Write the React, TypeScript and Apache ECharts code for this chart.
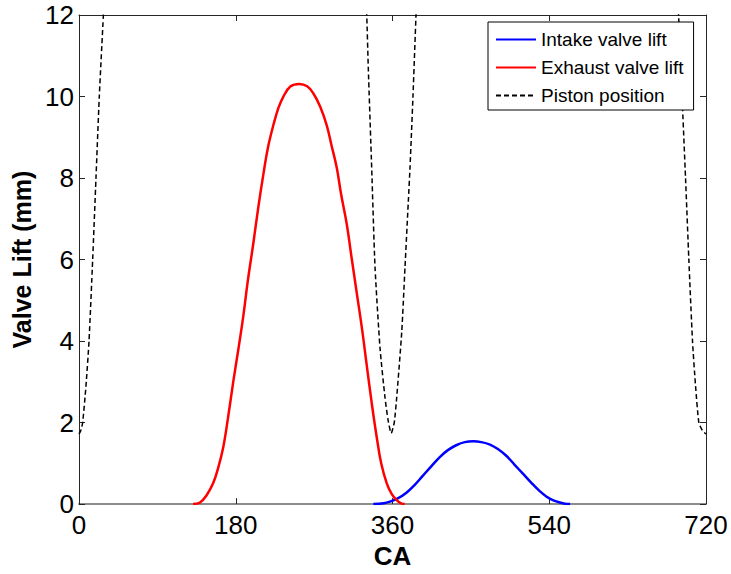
import React, { useEffect, useRef } from "react";
import * as echarts from "echarts";

// ---- data ----
const xTicks = [0, 180, 360, 540, 720];
const yTicks = [0, 2, 4, 6, 8, 10, 12];

const intakeCA = [338, 350, 357, 366, 376, 385, 395, 405, 414.6, 424, 433.7, 443, 452.8, 462, 472, 481, 491, 500, 510, 520, 529, 537, 544.7, 552, 558, 564];
const intakeLift = [0, 0.02, 0.06, 0.14, 0.28, 0.46, 0.7, 0.94, 1.16, 1.33, 1.45, 1.52, 1.54, 1.52, 1.46, 1.35, 1.18, 0.97, 0.74, 0.51, 0.32, 0.18, 0.09, 0.04, 0.01, 0];

const exhaustCA = [131, 139, 146, 154, 160, 165.7, 171, 177.2, 183, 188.7, 194, 200.2, 206, 211.7, 217, 223.2, 229, 234.7, 243, 253, 262, 269, 277, 284.4, 290, 296, 301, 307.4, 313, 318.9, 325, 330.4, 336, 341.9, 347, 353.4, 359, 364.8, 370, 374];
const exhaustLift = [0, 0.04, 0.2, 0.51, 0.9, 1.4, 2.1, 3.01, 3.8, 4.62, 5.5, 6.4, 7.3, 8.09, 8.75, 9.3, 9.72, 10.0, 10.25, 10.31, 10.25, 10.08, 9.75, 9.3, 8.8, 8.25, 7.6, 6.88, 6.05, 5.19, 4.3, 3.41, 2.5, 1.64, 1.0, 0.51, 0.25, 0.1, 0.02, 0];

const pistonLeftCA = [0, 2, 4.2, 8, 11.5, 15.7, 19.5, 23.3, 28, 29];
const pistonLeftPos = [1.72, 1.8, 2.0, 2.9, 4.0, 6.0, 8.0, 10.0, 12.0, 12.5];
const pistonMidCA = [329, 330.4, 332.2, 336.1, 339.9, 345.7, 351.4, 355, 358.5, 362, 364.8, 370.6, 374.4, 378.2, 380.1, 383.5, 387, 388];
const pistonMidPos = [12.5, 12, 10.7, 8.25, 5.83, 3.82, 2.61, 2.05, 1.74, 2.0, 2.61, 4.22, 5.83, 7.44, 8.25, 10.0, 12, 12.5];
const pistonRightCA = [687, 688.5, 692.5, 696.5, 700.3, 704.5, 708, 711.8, 716, 720];
const pistonRightPos = [12.5, 12, 10, 8, 6, 4, 2.9, 2.0, 1.8, 1.72];

const seriesNames = ["Intake valve lift", "Exhaust valve lift", "Piston position"];

const zip = (xs: number[], ys: number[]) => xs.map((x, i) => [x, ys[i]]);

export default function App() {
  const ref = useRef<HTMLDivElement>(null);
  useEffect(() => {
    if (!ref.current) return;
    const chart = echarts.init(ref.current, undefined, { renderer: "svg" });
    const pistonData: any[] = [
      ...zip(pistonLeftCA, pistonLeftPos),
      [200, null],
      ...zip(pistonMidCA, pistonMidPos),
      [540, null],
      ...zip(pistonRightCA, pistonRightPos),
    ];
    const font = "'Liberation Sans', Arial, sans-serif";
    const tickCommon = {
      inside: true,
      length: 6,
      lineStyle: { color: "#262626", width: 1 },
    };
    chart.setOption({
      animation: false,
      backgroundColor: "#ffffff",
      grid: { left: 79, right: 25, top: 15, bottom: 63, containLabel: false },
      legend: {
        data: seriesNames,
        orient: "vertical",
        left: 488,
        top: 22,
        itemWidth: 40,
        itemHeight: 14,
        itemGap: 7,
        padding: [7, 10, 4, 7],
        borderColor: "#000000",
        borderWidth: 1,
        borderRadius: 0,
        backgroundColor: "#ffffff",
        itemStyle: { opacity: 0 },
        textStyle: { fontFamily: font, fontSize: 19, color: "#000", lineHeight: 21 },
      },
      xAxis: [
        {
          type: "value",
          min: 0,
          max: 720,
          interval: 180,
          position: "bottom",
          name: "CA",
          nameLocation: "middle",
          nameGap: 32,
          nameTextStyle: { fontFamily: font, fontSize: 26, fontWeight: "bold", color: "#000" },
          axisLine: { show: true, onZero: false, lineStyle: { color: "#8c8c8c", width: 2 } },
          axisTick: tickCommon,
          axisLabel: {
            fontFamily: font,
            fontSize: 26,
            color: "#000",
            margin: 8,
            formatter: (v: number) => (xTicks.includes(v) ? String(v) : ""),
          },
          splitLine: { show: false },
        },
        {
          type: "value",
          min: 0,
          max: 720,
          interval: 180,
          position: "top",
          axisLine: { show: true, onZero: false, lineStyle: { color: "#262626", width: 1 } },
          axisTick: tickCommon,
          axisLabel: { show: false },
          splitLine: { show: false },
        },
      ],
      yAxis: [
        {
          type: "value",
          min: 0,
          max: 12,
          interval: 2,
          position: "left",
          name: "Valve Lift (mm)",
          nameLocation: "middle",
          nameGap: 40,
          nameTextStyle: { fontFamily: font, fontSize: 25, fontWeight: "bold", color: "#000" },
          axisLine: { show: true, onZero: false, lineStyle: { color: "#262626", width: 1 } },
          axisTick: tickCommon,
          axisLabel: {
            fontFamily: font,
            fontSize: 26,
            color: "#000",
            margin: 5,
            formatter: (v: number) => (yTicks.includes(v) ? String(v) : ""),
          },
          splitLine: { show: false },
        },
        {
          type: "value",
          min: 0,
          max: 12,
          interval: 2,
          position: "right",
          axisLine: { show: true, onZero: false, lineStyle: { color: "#262626", width: 1 } },
          axisTick: tickCommon,
          axisLabel: { show: false },
          splitLine: { show: false },
        },
      ],
      series: [
        {
          name: seriesNames[0],
          type: "line",
          data: zip(intakeCA, intakeLift),
          symbol: "none",
          smooth: 0.4,
          lineStyle: { color: "#0000ff", width: 2.5 },
          itemStyle: { color: "#0000ff" },
        },
        {
          name: seriesNames[1],
          type: "line",
          data: zip(exhaustCA, exhaustLift),
          symbol: "none",
          smooth: 0.4,
          lineStyle: { color: "#ff0000", width: 2.5 },
          itemStyle: { color: "#ff0000" },
        },
        {
          name: seriesNames[2],
          type: "line",
          data: pistonData,
          symbol: "none",
          connectNulls: false,
          smooth: 0.2,
          lineStyle: { color: "#000000", width: 1.5, type: [5, 3] },
          itemStyle: { color: "#000000" },
        },
      ],
    });
    return () => chart.dispose();
  }, []);
  return <div ref={ref} style={{ position: "absolute", left: 0, top: 0, width: 731, height: 574 }} />;
}
